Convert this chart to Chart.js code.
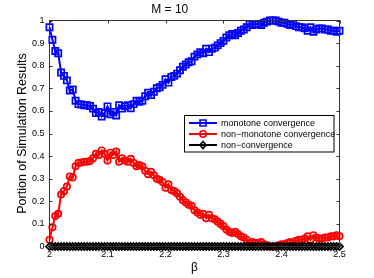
<!DOCTYPE html>
<html lang="en">
<head>
<meta charset="UTF-8">
<title>M = 10</title>
<script src="https://cdn.jsdelivr.net/npm/chart.js"></script>
<style>
  html, body { margin: 0; padding: 0; background: #fff; }
</style>
</head>
<body>
<canvas id="chart" width="374" height="278"></canvas>
<script>
// beta grid (step 0.005)
const beta = [
  2.000, 2.005, 2.010, 2.015, 2.020, 2.025, 2.030, 2.035, 2.040, 2.045,
  2.050, 2.055, 2.060, 2.065, 2.070, 2.075, 2.080, 2.085, 2.090, 2.095,
  2.100, 2.105, 2.110, 2.115, 2.120, 2.125, 2.130, 2.135, 2.140, 2.145,
  2.150, 2.155, 2.160, 2.165, 2.170, 2.175, 2.180, 2.185, 2.190, 2.195,
  2.200, 2.205, 2.210, 2.215, 2.220, 2.225, 2.230, 2.235, 2.240, 2.245,
  2.250, 2.255, 2.260, 2.265, 2.270, 2.275, 2.280, 2.285, 2.290, 2.295,
  2.300, 2.305, 2.310, 2.315, 2.320, 2.325, 2.330, 2.335, 2.340, 2.345,
  2.350, 2.355, 2.360, 2.365, 2.370, 2.375, 2.380, 2.385, 2.390, 2.395,
  2.400, 2.405, 2.410, 2.415, 2.420, 2.425, 2.430, 2.435, 2.440, 2.445,
  2.450, 2.455, 2.460, 2.465, 2.470, 2.475, 2.480, 2.485, 2.490, 2.495,
  2.500
];

const monotone = [
  0.970, 0.915, 0.865, 0.855, 0.770, 0.755, 0.735, 0.690, 0.695, 0.645,
  0.630, 0.628, 0.625, 0.625, 0.622, 0.610, 0.590, 0.595, 0.575, 0.590,
  0.620, 0.585, 0.595, 0.580, 0.625, 0.610, 0.620, 0.625, 0.612, 0.630,
  0.645, 0.640, 0.645, 0.665, 0.680, 0.670, 0.685, 0.700, 0.705, 0.715,
  0.740, 0.725, 0.750, 0.755, 0.765, 0.780, 0.795, 0.805, 0.815, 0.820,
  0.840, 0.850, 0.860, 0.855, 0.875, 0.860, 0.875, 0.880, 0.890, 0.900,
  0.910, 0.925, 0.935, 0.940, 0.935, 0.945, 0.955, 0.960, 0.970, 0.985,
  0.980, 0.985, 0.985, 0.980, 0.990, 0.995, 1.000, 1.000, 1.000, 0.995,
  0.990, 0.990, 0.985, 0.980, 0.985, 0.975, 0.970, 0.970, 0.965, 0.955,
  0.970, 0.950, 0.960, 0.965, 0.965, 0.960, 0.960, 0.955, 0.955, 0.950,
  0.955
];

const nonMonotone = [
  0.030, 0.085, 0.135, 0.145, 0.230, 0.245, 0.265, 0.310, 0.305, 0.355,
  0.370, 0.372, 0.375, 0.375, 0.378, 0.390, 0.410, 0.405, 0.425, 0.410,
  0.380, 0.415, 0.405, 0.420, 0.375, 0.390, 0.380, 0.375, 0.388, 0.370,
  0.355, 0.360, 0.355, 0.335, 0.320, 0.330, 0.315, 0.300, 0.295, 0.285,
  0.260, 0.275, 0.250, 0.245, 0.235, 0.220, 0.205, 0.195, 0.185, 0.180,
  0.160, 0.150, 0.140, 0.145, 0.125, 0.140, 0.125, 0.120, 0.110, 0.100,
  0.090, 0.075, 0.065, 0.060, 0.065, 0.055, 0.045, 0.040, 0.030, 0.015,
  0.020, 0.015, 0.015, 0.020, 0.010, 0.005, 0.000, 0.000, 0.000, 0.005,
  0.010, 0.010, 0.015, 0.020, 0.015, 0.025, 0.030, 0.030, 0.035, 0.045,
  0.030, 0.050, 0.040, 0.035, 0.035, 0.040, 0.040, 0.045, 0.045, 0.050,
  0.045
];

const nonConvergence = [
  0, 0, 0, 0, 0, 0, 0, 0, 0, 0,
  0, 0, 0, 0, 0, 0, 0, 0, 0, 0,
  0, 0, 0, 0, 0, 0, 0, 0, 0, 0,
  0, 0, 0, 0, 0, 0, 0, 0, 0, 0,
  0, 0, 0, 0, 0, 0, 0, 0, 0, 0,
  0, 0, 0, 0, 0, 0, 0, 0, 0, 0,
  0, 0, 0, 0, 0, 0, 0, 0, 0, 0,
  0, 0, 0, 0, 0, 0, 0, 0, 0, 0,
  0, 0, 0, 0, 0, 0, 0, 0, 0, 0,
  0, 0, 0, 0, 0, 0, 0, 0, 0, 0,
  0
];

const seriesNames = ['monotone convergence', 'non\u2212monotone convergence', 'non\u2212convergence'];

Chart.defaults.font.family = '"Liberation Sans", Arial, Helvetica, sans-serif';
Chart.defaults.color = '#000';

const toPoints = values => beta.map((b, i) => ({ x: b, y: values[i] }));
// "2", "2.1", "0", "0.5", "1" like MATLAB
const shortNum = v => String(Number(v.toFixed(2)));

// MATLAB-style box with inward ticks on all four sides
const axesBox = {
  id: 'axesBox',
  afterDatasetsDraw(chart) {
    const { ctx, chartArea: a, scales } = chart;
    ctx.save();
    ctx.strokeStyle = '#333';
    ctx.lineWidth = 1;
    ctx.strokeRect(a.left, a.top, a.right - a.left, a.bottom - a.top);
    ctx.beginPath();
    scales.x.ticks.forEach(t => {
      const px = Math.round(scales.x.getPixelForValue(t.value)) + 0.5;
      ctx.moveTo(px, a.bottom); ctx.lineTo(px, a.bottom - 3);
      ctx.moveTo(px, a.top); ctx.lineTo(px, a.top + 3);
    });
    scales.y.ticks.forEach(t => {
      const py = Math.round(scales.y.getPixelForValue(t.value)) + 0.5;
      ctx.moveTo(a.left, py); ctx.lineTo(a.left + 3, py);
      ctx.moveTo(a.right, py); ctx.lineTo(a.right - 3, py);
    });
    ctx.stroke();
    ctx.restore();
  }
};

// legend box inside the plot, like the original
const boxLegend = {
  id: 'boxLegend',
  afterDraw(chart) {
    const { ctx } = chart;
    const x0 = 184.5, y0 = 115.5, w = 149.5, h = 36.5;
    ctx.save();
    ctx.fillStyle = '#fff';
    ctx.fillRect(x0, y0, w, h);
    ctx.strokeStyle = '#000';
    ctx.lineWidth = 1;
    ctx.strokeRect(x0, y0, w, h);
    ctx.font = '9px "Liberation Sans", Arial, sans-serif';
    ctx.textBaseline = 'middle';
    const rows = [123, 134, 145];
    chart.data.datasets.forEach((ds, i) => {
      const y = rows[i];
      ctx.strokeStyle = ds.borderColor;
      ctx.lineWidth = 2;
      ctx.beginPath();
      ctx.moveTo(189, y); ctx.lineTo(217, y);
      ctx.stroke();
      ctx.lineWidth = 1.6;
      ctx.beginPath();
      if (ds.pointStyle === 'rect') {
        ctx.rect(200, y - 3, 6, 6);
      } else if (ds.pointStyle === 'circle') {
        ctx.arc(203, y, 3.2, 0, Math.PI * 2);
      } else {
        ctx.moveTo(203, y - 3.5); ctx.lineTo(206, y); ctx.lineTo(203, y + 3.5); ctx.lineTo(200, y);
        ctx.closePath();
      }
      ctx.stroke();
      ctx.fillStyle = '#000';
      ctx.fillText(seriesNames[i], 221, y + 0.5);
    });
    ctx.restore();
  }
};

new Chart(document.getElementById('chart'), {
  type: 'line',
  data: {
    datasets: [
      {
        label: seriesNames[0],
        data: toPoints(monotone),
        borderColor: '#0000ff',
        borderWidth: 2,
        pointStyle: 'rect',
        pointRadius: 4.4,
        pointBorderWidth: 1.7,
        pointBorderColor: '#0000ff',
        pointBackgroundColor: 'rgba(0,0,0,0)',
        tension: 0,
        clip: false,
        order: 2
      },
      {
        label: seriesNames[1],
        data: toPoints(nonMonotone),
        borderColor: '#ff0000',
        borderWidth: 2,
        pointStyle: 'circle',
        pointRadius: 3.2,
        pointBorderWidth: 1.7,
        pointBorderColor: '#ff0000',
        pointBackgroundColor: 'rgba(0,0,0,0)',
        tension: 0,
        clip: false,
        order: 1
      },
      {
        label: seriesNames[2],
        data: toPoints(nonConvergence),
        borderColor: '#000000',
        borderWidth: 2,
        pointStyle: 'rectRot',
        pointRadius: 3.6,
        pointBorderWidth: 1.7,
        pointBorderColor: '#000000',
        pointBackgroundColor: 'rgba(0,0,0,0)',
        tension: 0,
        clip: false,
        order: 0
      }
    ]
  },
  options: {
    responsive: false,
    animation: false,
    devicePixelRatio: 1,
    layout: { padding: { left: 0, right: 34.5, top: 0, bottom: 0 } },
    plugins: {
      legend: { display: false },
      tooltip: { enabled: false },
      title: {
        display: true,
        text: 'M = 10',
        font: { size: 12, weight: 'normal' },
        color: '#000',
        padding: { top: 2, bottom: 4.1 }
      }
    },
    scales: {
      x: {
        type: 'linear',
        min: 2,
        max: 2.5,
        ticks: { stepSize: 0.1, font: { size: 9 }, padding: 3, maxRotation: 0, callback: shortNum },
        grid: { display: false, drawTicks: false },
        border: { display: false },
        title: { display: true, text: '\u03B2', font: { size: 12 }, padding: { top: 0, bottom: 3 } },
        afterFit(scale) { scale.height = 31.5; }
      },
      y: {
        min: 0,
        max: 1,
        ticks: { stepSize: 0.1, font: { size: 9 }, padding: 5, callback: shortNum },
        grid: { display: false, drawTicks: false },
        border: { display: false },
        title: { display: true, text: 'Portion of Simulation Results', font: { size: 12.5 }, padding: { top: 15, bottom: 0 } },
        afterFit(scale) { scale.width = 49.5; }
      }
    }
  },
  plugins: [axesBox, boxLegend]
});
</script>
</body>
</html>
